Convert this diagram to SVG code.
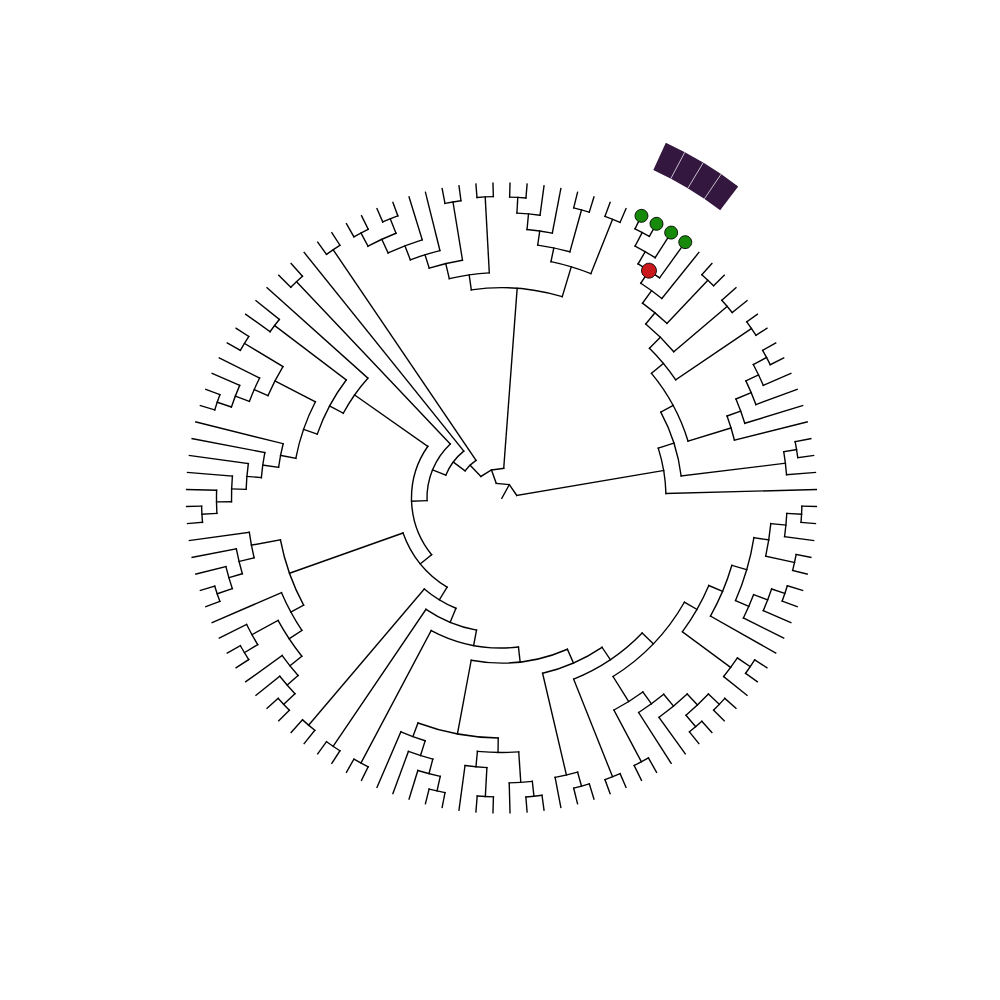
<svg xmlns="http://www.w3.org/2000/svg" width="1000" height="1000" viewBox="0 0 1000 1000">
<style>
.t path,.t circle,.t polyline{fill:none;stroke:#000;stroke-width:1.4;stroke-linecap:square}
.t polyline{stroke-linejoin:miter}
.g{fill:#178a0b;stroke:#000;stroke-width:0.8}
.r{fill:#c9191c;stroke:#000;stroke-width:0.8}
.sep{stroke:#d8d2de;stroke-width:0.8}
</style>
<rect width="1000" height="1000" fill="#fff"/>
<g transform="translate(501.5,498)">
<g id="connectors" class="t">
<path d="M0.3 0.3L7.83 -13.38"/>
<polyline points="-5.23,-14.59 7.83,-13.38 15.28,-2.59"/>
<path d="M15.5 0H29.8" transform="rotate(250.29)"/><path d="M15.5 0H164.5" transform="rotate(350.38)"/>
<circle r="164.5" pathLength="360" stroke-dasharray="16.11 400" transform="rotate(342.34)"/>
<path d="M164.5 0H181" transform="rotate(342.34)"/><path d="M164.5 0H315" transform="rotate(358.45)"/>
<circle r="181" pathLength="360" stroke-dasharray="21.36 400" transform="rotate(331.66)"/>
<path d="M181 0H195" transform="rotate(331.66)"/><path d="M181 0H286" transform="rotate(353.02)"/>
<circle r="286" pathLength="360" stroke-dasharray="4.65 400" transform="rotate(350.69)"/>
<path d="M286 0H299" transform="rotate(350.69)"/><path d="M286 0H315" transform="rotate(355.34)"/>
<circle r="299" pathLength="360" stroke-dasharray="3.10 400" transform="rotate(349.14)"/>
<path d="M299 0H315" transform="rotate(349.14)"/><path d="M299 0H315" transform="rotate(352.24)"/>
<circle r="195" pathLength="360" stroke-dasharray="22.74 400" transform="rotate(320.28)"/>
<path d="M195 0H210.5" transform="rotate(320.28)"/><path d="M195 0H240" transform="rotate(343.02)"/>
<circle r="240" pathLength="360" stroke-dasharray="6.01 400" transform="rotate(340.02)"/>
<path d="M240 0H254.5" transform="rotate(340.02)"/><path d="M240 0H315" transform="rotate(346.03)"/>
<circle r="254.5" pathLength="360" stroke-dasharray="5.82 400" transform="rotate(337.11)"/>
<path d="M254.5 0H271" transform="rotate(337.11)"/><path d="M254.5 0H315" transform="rotate(342.93)"/>
<circle r="271" pathLength="360" stroke-dasharray="5.43 400" transform="rotate(334.40)"/>
<path d="M271 0H285" transform="rotate(334.40)"/><path d="M271 0H315" transform="rotate(339.83)"/>
<circle r="285" pathLength="360" stroke-dasharray="4.65 400" transform="rotate(332.07)"/>
<path d="M285 0H300" transform="rotate(332.07)"/><path d="M285 0H315" transform="rotate(336.72)"/>
<circle r="300" pathLength="360" stroke-dasharray="3.10 400" transform="rotate(330.52)"/>
<path d="M300 0H315" transform="rotate(330.52)"/><path d="M300 0H315" transform="rotate(333.62)"/>
<circle r="210.5" pathLength="360" stroke-dasharray="11.20 400" transform="rotate(314.66)"/>
<path d="M210.5 0H226" transform="rotate(314.66)"/><path d="M210.5 0H302" transform="rotate(325.86)"/>
<circle r="302" pathLength="360" stroke-dasharray="3.10 400" transform="rotate(324.31)"/>
<path d="M302 0H315" transform="rotate(324.31)"/><path d="M302 0H315" transform="rotate(327.41)"/>
<circle r="226" pathLength="360" stroke-dasharray="10.00 400" transform="rotate(309.66)"/>
<path d="M226 0H240.5" transform="rotate(309.66)"/><path d="M226 0H296" transform="rotate(319.66)"/>
<circle r="296" pathLength="360" stroke-dasharray="3.11 400" transform="rotate(318.10)"/>
<path d="M296 0H315" transform="rotate(318.10)"/><path d="M296 0H315" transform="rotate(321.21)"/>
<circle r="240.5" pathLength="360" stroke-dasharray="7.56 400" transform="rotate(305.89)"/>
<path d="M240.5 0H256" transform="rotate(305.89)"/><path d="M240.5 0H300" transform="rotate(313.45)"/>
<circle r="300" pathLength="360" stroke-dasharray="3.10 400" transform="rotate(311.90)"/>
<path d="M300 0H315" transform="rotate(311.90)"/><path d="M300 0H315" transform="rotate(315.00)"/>
<circle r="256" pathLength="360" stroke-dasharray="5.82 400" transform="rotate(302.97)"/>
<path d="M256 0H271" transform="rotate(302.97)"/><path d="M256 0H315" transform="rotate(308.79)"/>
<circle r="271" pathLength="360" stroke-dasharray="5.43 400" transform="rotate(300.26)"/>
<path d="M271 0H285.2" transform="rotate(300.26)"/><path d="M271 0H315" transform="rotate(305.69)"/>
<circle r="285.2" pathLength="360" stroke-dasharray="4.66 400" transform="rotate(297.93)"/>
<path d="M285.2 0H300.5" transform="rotate(297.93)"/><path d="M285.2 0H315" transform="rotate(302.59)"/>
<circle r="300.5" pathLength="360" stroke-dasharray="3.10 400" transform="rotate(296.38)"/>
<path d="M300.5 0H315" transform="rotate(296.38)"/><path d="M300.5 0H315" transform="rotate(299.48)"/>
<polyline points="-20.59,-21.55 -10.05,-28.05 2.22,-29.72"/>
<path d="M29.8 0H45.4" transform="rotate(226.30)"/><path d="M29.8 0H210.3" transform="rotate(274.27)"/>
<circle r="210.3" pathLength="360" stroke-dasharray="25.04 400" transform="rotate(261.75)"/>
<path d="M210.3 0H225.5" transform="rotate(261.75)"/><path d="M210.3 0H241.5" transform="rotate(286.79)"/>
<circle r="225.5" pathLength="360" stroke-dasharray="10.28 400" transform="rotate(256.62)"/>
<path d="M225.5 0H241" transform="rotate(256.62)"/><path d="M225.5 0H301.5" transform="rotate(266.90)"/>
<circle r="301.5" pathLength="360" stroke-dasharray="3.11 400" transform="rotate(265.34)"/>
<path d="M301.5 0H315" transform="rotate(265.34)"/><path d="M301.5 0H315" transform="rotate(268.45)"/>
<circle r="241" pathLength="360" stroke-dasharray="8.15 400" transform="rotate(252.54)"/>
<path d="M241 0H255" transform="rotate(252.54)"/><path d="M241 0H300" transform="rotate(260.69)"/>
<circle r="300" pathLength="360" stroke-dasharray="3.10 400" transform="rotate(259.14)"/>
<path d="M300 0H315" transform="rotate(259.14)"/><path d="M300 0H315" transform="rotate(262.24)"/>
<circle r="255" pathLength="360" stroke-dasharray="6.98 400" transform="rotate(249.05)"/>
<path d="M255 0H270" transform="rotate(249.05)"/><path d="M255 0H315" transform="rotate(256.03)"/>
<circle r="270" pathLength="360" stroke-dasharray="7.76 400" transform="rotate(245.17)"/>
<path d="M270 0H285" transform="rotate(245.17)"/><path d="M270 0H315" transform="rotate(252.93)"/>
<circle r="285" pathLength="360" stroke-dasharray="6.21 400" transform="rotate(242.07)"/>
<path d="M285 0H300" transform="rotate(242.07)"/><path d="M285 0H300.5" transform="rotate(248.28)"/>
<circle r="300" pathLength="360" stroke-dasharray="3.10 400" transform="rotate(240.52)"/>
<path d="M300 0H315" transform="rotate(240.52)"/><path d="M300 0H315" transform="rotate(243.62)"/>
<circle r="300.5" pathLength="360" stroke-dasharray="3.11 400" transform="rotate(246.72)"/>
<path d="M300.5 0H315" transform="rotate(246.72)"/><path d="M300.5 0H315" transform="rotate(249.83)"/>
<circle r="241.5" pathLength="360" stroke-dasharray="9.90 400" transform="rotate(281.82)"/>
<path d="M241.5 0H255.5" transform="rotate(281.82)"/><path d="M241.5 0H300" transform="rotate(291.72)"/>
<circle r="300" pathLength="360" stroke-dasharray="3.11 400" transform="rotate(290.17)"/>
<path d="M300 0H315" transform="rotate(290.17)"/><path d="M300 0H315" transform="rotate(293.28)"/>
<circle r="255.5" pathLength="360" stroke-dasharray="7.37 400" transform="rotate(278.15)"/>
<path d="M255.5 0H269.7" transform="rotate(278.15)"/><path d="M255.5 0H299" transform="rotate(285.52)"/>
<circle r="299" pathLength="360" stroke-dasharray="3.10 400" transform="rotate(283.97)"/>
<path d="M299 0H315" transform="rotate(283.97)"/><path d="M299 0H315" transform="rotate(287.07)"/>
<circle r="269.7" pathLength="360" stroke-dasharray="5.43 400" transform="rotate(275.43)"/>
<path d="M269.7 0H285.3" transform="rotate(275.43)"/><path d="M269.7 0H315" transform="rotate(280.86)"/>
<circle r="285.3" pathLength="360" stroke-dasharray="4.66 400" transform="rotate(273.10)"/>
<path d="M285.3 0H301" transform="rotate(273.10)"/><path d="M285.3 0H315" transform="rotate(277.76)"/>
<circle r="301" pathLength="360" stroke-dasharray="3.11 400" transform="rotate(271.55)"/>
<path d="M301 0H315" transform="rotate(271.55)"/><path d="M301 0H315" transform="rotate(274.66)"/>
<circle r="45.4" pathLength="360" stroke-dasharray="19.12 400" transform="rotate(216.74)"/>
<path d="M45.4 0H60.2" transform="rotate(216.74)"/><path d="M45.4 0H300" transform="rotate(235.86)"/>
<circle r="300" pathLength="360" stroke-dasharray="3.10 400" transform="rotate(234.31)"/>
<path d="M300 0H315" transform="rotate(234.31)"/><path d="M300 0H315" transform="rotate(237.41)"/>
<circle r="60.2" pathLength="360" stroke-dasharray="28.96 400" transform="rotate(202.25)"/>
<path d="M60.2 0H74.5" transform="rotate(202.25)"/><path d="M60.2 0H315" transform="rotate(231.21)"/>
<circle r="74.5" pathLength="360" stroke-dasharray="48.57 400" transform="rotate(177.98)"/>
<path d="M74.5 0H90" transform="rotate(177.98)"/><path d="M74.5 0H298" transform="rotate(226.55)"/>
<circle r="298" pathLength="360" stroke-dasharray="3.10 400" transform="rotate(225.00)"/>
<path d="M298 0H315" transform="rotate(225.00)"/><path d="M298 0H315" transform="rotate(228.10)"/>
<circle r="90" pathLength="360" stroke-dasharray="74.11 400" transform="rotate(140.93)"/>
<path d="M90 0H104.5" transform="rotate(140.93)"/><path d="M90 0H179.5" transform="rotate(215.04)"/>
<circle r="179.5" pathLength="360" stroke-dasharray="13.72 400" transform="rotate(208.18)"/>
<path d="M179.5 0H195" transform="rotate(208.18)"/><path d="M179.5 0H315" transform="rotate(221.90)"/>
<circle r="195" pathLength="360" stroke-dasharray="18.12 400" transform="rotate(199.12)"/>
<path d="M195 0H209.5" transform="rotate(199.12)"/><path d="M195 0H285" transform="rotate(217.24)"/>
<circle r="285" pathLength="360" stroke-dasharray="3.10 400" transform="rotate(215.69)"/>
<path d="M285 0H315" transform="rotate(215.69)"/><path d="M285 0H315" transform="rotate(218.79)"/>
<circle r="209.5" pathLength="360" stroke-dasharray="16.42 400" transform="rotate(190.92)"/>
<path d="M209.5 0H225" transform="rotate(190.92)"/><path d="M209.5 0H255" transform="rotate(207.34)"/>
<circle r="255" pathLength="360" stroke-dasharray="7.37 400" transform="rotate(203.66)"/>
<path d="M255 0H270" transform="rotate(203.66)"/><path d="M255 0H300" transform="rotate(211.03)"/>
<circle r="300" pathLength="360" stroke-dasharray="3.11 400" transform="rotate(209.48)"/>
<path d="M300 0H315" transform="rotate(209.48)"/><path d="M300 0H315" transform="rotate(212.59)"/>
<circle r="270" pathLength="360" stroke-dasharray="5.43 400" transform="rotate(200.95)"/>
<path d="M270 0H285" transform="rotate(200.95)"/><path d="M270 0H315" transform="rotate(206.38)"/>
<circle r="285" pathLength="360" stroke-dasharray="4.66 400" transform="rotate(198.62)"/>
<path d="M285 0H300" transform="rotate(198.62)"/><path d="M285 0H315" transform="rotate(203.28)"/>
<circle r="300" pathLength="360" stroke-dasharray="3.10 400" transform="rotate(197.07)"/>
<path d="M300 0H315" transform="rotate(197.07)"/><path d="M300 0H315" transform="rotate(200.17)"/>
<circle r="225" pathLength="360" stroke-dasharray="6.12 400" transform="rotate(187.85)"/>
<path d="M225 0H241" transform="rotate(187.85)"/><path d="M225 0H315" transform="rotate(193.97)"/>
<circle r="241" pathLength="360" stroke-dasharray="6.01 400" transform="rotate(184.85)"/>
<path d="M241 0H255.5" transform="rotate(184.85)"/><path d="M241 0H315" transform="rotate(190.86)"/>
<circle r="255.5" pathLength="360" stroke-dasharray="5.82 400" transform="rotate(181.94)"/>
<path d="M255.5 0H270" transform="rotate(181.94)"/><path d="M255.5 0H315" transform="rotate(187.76)"/>
<circle r="270" pathLength="360" stroke-dasharray="5.44 400" transform="rotate(179.22)"/>
<path d="M270 0H285" transform="rotate(179.22)"/><path d="M270 0H315" transform="rotate(184.66)"/>
<circle r="285" pathLength="360" stroke-dasharray="4.65 400" transform="rotate(176.90)"/>
<path d="M285 0H300" transform="rotate(176.90)"/><path d="M285 0H315" transform="rotate(181.55)"/>
<circle r="300" pathLength="360" stroke-dasharray="3.11 400" transform="rotate(175.34)"/>
<path d="M300 0H315" transform="rotate(175.34)"/><path d="M300 0H315" transform="rotate(178.45)"/>
<circle r="104.5" pathLength="360" stroke-dasharray="39.07 400" transform="rotate(121.38)"/>
<path d="M104.5 0H119.3" transform="rotate(121.38)"/><path d="M104.5 0H225" transform="rotate(160.45)"/>
<circle r="225" pathLength="360" stroke-dasharray="17.75 400" transform="rotate(151.57)"/>
<path d="M225 0H239.5" transform="rotate(151.57)"/><path d="M225 0H254.5" transform="rotate(169.32)"/>
<circle r="254.5" pathLength="360" stroke-dasharray="5.82 400" transform="rotate(166.42)"/>
<path d="M254.5 0H270" transform="rotate(166.42)"/><path d="M254.5 0H315" transform="rotate(172.24)"/>
<circle r="270" pathLength="360" stroke-dasharray="5.43 400" transform="rotate(163.71)"/>
<path d="M270 0H284" transform="rotate(163.71)"/><path d="M270 0H315" transform="rotate(169.14)"/>
<circle r="284" pathLength="360" stroke-dasharray="4.65 400" transform="rotate(161.38)"/>
<path d="M284 0H300" transform="rotate(161.38)"/><path d="M284 0H315" transform="rotate(166.03)"/>
<circle r="300" pathLength="360" stroke-dasharray="3.10 400" transform="rotate(159.83)"/>
<path d="M300 0H315" transform="rotate(159.83)"/><path d="M300 0H315" transform="rotate(162.93)"/>
<circle r="239.5" pathLength="360" stroke-dasharray="10.27 400" transform="rotate(146.45)"/>
<path d="M239.5 0H254.8" transform="rotate(146.45)"/><path d="M239.5 0H315" transform="rotate(156.72)"/>
<circle r="254.8" pathLength="360" stroke-dasharray="9.70 400" transform="rotate(141.59)"/>
<path d="M254.8 0H270" transform="rotate(141.59)"/><path d="M254.8 0H284.5" transform="rotate(151.29)"/>
<circle r="284.5" pathLength="360" stroke-dasharray="4.65 400" transform="rotate(148.97)"/>
<path d="M284.5 0H300" transform="rotate(148.97)"/><path d="M284.5 0H315" transform="rotate(153.62)"/>
<circle r="300" pathLength="360" stroke-dasharray="3.11 400" transform="rotate(147.41)"/>
<path d="M300 0H315" transform="rotate(147.41)"/><path d="M300 0H315" transform="rotate(150.52)"/>
<circle r="270" pathLength="360" stroke-dasharray="5.43 400" transform="rotate(138.88)"/>
<path d="M270 0H284.5" transform="rotate(138.88)"/><path d="M270 0H315" transform="rotate(144.31)"/>
<circle r="284.5" pathLength="360" stroke-dasharray="4.66 400" transform="rotate(136.55)"/>
<path d="M284.5 0H300" transform="rotate(136.55)"/><path d="M284.5 0H315" transform="rotate(141.21)"/>
<circle r="300" pathLength="360" stroke-dasharray="3.10 400" transform="rotate(135.00)"/>
<path d="M300 0H315" transform="rotate(135.00)"/><path d="M300 0H315" transform="rotate(138.10)"/>
<circle r="119.3" pathLength="360" stroke-dasharray="17.90 400" transform="rotate(112.44)"/>
<path d="M119.3 0H134.5" transform="rotate(112.44)"/><path d="M119.3 0H298" transform="rotate(130.34)"/>
<circle r="298" pathLength="360" stroke-dasharray="3.11 400" transform="rotate(128.79)"/>
<path d="M298 0H315" transform="rotate(128.79)"/><path d="M298 0H315" transform="rotate(131.90)"/>
<circle r="134.5" pathLength="360" stroke-dasharray="23.43 400" transform="rotate(100.71)"/>
<path d="M134.5 0H150" transform="rotate(100.71)"/><path d="M134.5 0H300" transform="rotate(124.14)"/>
<circle r="300" pathLength="360" stroke-dasharray="3.10 400" transform="rotate(122.59)"/>
<path d="M300 0H315" transform="rotate(122.59)"/><path d="M300 0H315" transform="rotate(125.69)"/>
<circle r="150" pathLength="360" stroke-dasharray="34.42 400" transform="rotate(83.51)"/>
<path d="M150 0H165" transform="rotate(83.51)"/><path d="M150 0H300" transform="rotate(117.93)"/>
<circle r="300" pathLength="360" stroke-dasharray="3.10 400" transform="rotate(116.38)"/>
<path d="M300 0H315" transform="rotate(116.38)"/><path d="M300 0H315" transform="rotate(119.48)"/>
<circle r="165" pathLength="360" stroke-dasharray="34.14 400" transform="rotate(66.44)"/>
<path d="M165 0H180" transform="rotate(66.44)"/><path d="M165 0H240" transform="rotate(100.58)"/>
<circle r="240" pathLength="360" stroke-dasharray="19.59 400" transform="rotate(90.78)"/>
<path d="M240 0H254.5" transform="rotate(90.78)"/><path d="M240 0H254.5" transform="rotate(110.37)"/>
<circle r="254.5" pathLength="360" stroke-dasharray="5.82 400" transform="rotate(107.46)"/>
<path d="M254.5 0H270" transform="rotate(107.46)"/><path d="M254.5 0H315" transform="rotate(113.28)"/>
<circle r="270" pathLength="360" stroke-dasharray="5.43 400" transform="rotate(104.74)"/>
<path d="M270 0H285" transform="rotate(104.74)"/><path d="M270 0H315" transform="rotate(110.17)"/>
<circle r="285" pathLength="360" stroke-dasharray="4.66 400" transform="rotate(102.41)"/>
<path d="M285 0H300" transform="rotate(102.41)"/><path d="M285 0H315" transform="rotate(107.07)"/>
<circle r="300" pathLength="360" stroke-dasharray="3.11 400" transform="rotate(100.86)"/>
<path d="M300 0H315" transform="rotate(100.86)"/><path d="M300 0H315" transform="rotate(103.97)"/>
<circle r="254.5" pathLength="360" stroke-dasharray="9.31 400" transform="rotate(86.12)"/>
<path d="M254.5 0H285" transform="rotate(86.12)"/><path d="M254.5 0H270" transform="rotate(95.43)"/>
<circle r="270" pathLength="360" stroke-dasharray="4.66 400" transform="rotate(93.10)"/>
<path d="M270 0H299" transform="rotate(93.10)"/><path d="M270 0H315" transform="rotate(97.76)"/>
<circle r="299" pathLength="360" stroke-dasharray="3.11 400" transform="rotate(91.55)"/>
<path d="M299 0H315" transform="rotate(91.55)"/><path d="M299 0H315" transform="rotate(94.66)"/>
<circle r="285" pathLength="360" stroke-dasharray="4.66 400" transform="rotate(83.79)"/>
<path d="M285 0H300" transform="rotate(83.79)"/><path d="M285 0H315" transform="rotate(88.45)"/>
<circle r="300" pathLength="360" stroke-dasharray="3.10 400" transform="rotate(82.24)"/>
<path d="M300 0H315" transform="rotate(82.24)"/><path d="M300 0H315" transform="rotate(85.34)"/>
<circle r="180" pathLength="360" stroke-dasharray="20.76 400" transform="rotate(56.05)"/>
<path d="M180 0H195" transform="rotate(56.05)"/><path d="M180 0H284.5" transform="rotate(76.81)"/>
<circle r="284.5" pathLength="360" stroke-dasharray="4.66 400" transform="rotate(74.48)"/>
<path d="M284.5 0H299" transform="rotate(74.48)"/><path d="M284.5 0H315" transform="rotate(79.14)"/>
<circle r="299" pathLength="360" stroke-dasharray="3.10 400" transform="rotate(72.93)"/>
<path d="M299 0H315" transform="rotate(72.93)"/><path d="M299 0H315" transform="rotate(76.03)"/>
<circle r="195" pathLength="360" stroke-dasharray="24.44 400" transform="rotate(43.84)"/>
<path d="M195 0H210.5" transform="rotate(43.84)"/><path d="M195 0H300" transform="rotate(68.28)"/>
<circle r="300" pathLength="360" stroke-dasharray="3.11 400" transform="rotate(66.72)"/>
<path d="M300 0H315" transform="rotate(66.72)"/><path d="M300 0H315" transform="rotate(69.83)"/>
<circle r="210.5" pathLength="360" stroke-dasharray="28.32 400" transform="rotate(29.68)"/>
<path d="M210.5 0H225" transform="rotate(29.68)"/><path d="M210.5 0H240" transform="rotate(58.00)"/>
<circle r="240" pathLength="360" stroke-dasharray="8.15 400" transform="rotate(53.92)"/>
<path d="M240 0H254.6" transform="rotate(53.92)"/><path d="M240 0H298.6" transform="rotate(62.07)"/>
<circle r="298.6" pathLength="360" stroke-dasharray="3.10 400" transform="rotate(60.52)"/>
<path d="M298.6 0H315" transform="rotate(60.52)"/><path d="M298.6 0H315" transform="rotate(63.62)"/>
<circle r="254.6" pathLength="360" stroke-dasharray="6.98 400" transform="rotate(50.43)"/>
<path d="M254.6 0H270" transform="rotate(50.43)"/><path d="M254.6 0H315" transform="rotate(57.41)"/>
<circle r="270" pathLength="360" stroke-dasharray="7.76 400" transform="rotate(46.55)"/>
<path d="M270 0H285" transform="rotate(46.55)"/><path d="M270 0H315" transform="rotate(54.31)"/>
<circle r="285" pathLength="360" stroke-dasharray="6.21 400" transform="rotate(43.45)"/>
<path d="M285 0H300" transform="rotate(43.45)"/><path d="M285 0H300" transform="rotate(49.66)"/>
<circle r="300" pathLength="360" stroke-dasharray="3.10 400" transform="rotate(41.90)"/>
<path d="M300 0H315" transform="rotate(41.90)"/><path d="M300 0H315" transform="rotate(45.00)"/>
<circle r="300" pathLength="360" stroke-dasharray="3.11 400" transform="rotate(48.10)"/>
<path d="M300 0H315" transform="rotate(48.10)"/><path d="M300 0H315" transform="rotate(51.21)"/>
<circle r="225" pathLength="360" stroke-dasharray="13.58 400" transform="rotate(22.89)"/>
<path d="M225 0H240" transform="rotate(22.89)"/><path d="M225 0H285" transform="rotate(36.47)"/>
<circle r="285" pathLength="360" stroke-dasharray="4.65 400" transform="rotate(34.14)"/>
<path d="M285 0H300.5" transform="rotate(34.14)"/><path d="M285 0H315" transform="rotate(38.79)"/>
<circle r="300.5" pathLength="360" stroke-dasharray="3.10 400" transform="rotate(32.59)"/>
<path d="M300.5 0H315" transform="rotate(32.59)"/><path d="M300.5 0H315" transform="rotate(35.69)"/>
<circle r="240" pathLength="360" stroke-dasharray="13.19 400" transform="rotate(16.29)"/>
<path d="M240 0H255.5" transform="rotate(16.29)"/><path d="M240 0H315" transform="rotate(29.48)"/>
<circle r="255.5" pathLength="360" stroke-dasharray="14.74 400" transform="rotate(8.92)"/>
<path d="M255.5 0H270.5" transform="rotate(8.92)"/><path d="M255.5 0H270" transform="rotate(23.66)"/>
<circle r="270" pathLength="360" stroke-dasharray="5.43 400" transform="rotate(20.95)"/>
<path d="M270 0H285" transform="rotate(20.95)"/><path d="M270 0H315" transform="rotate(26.38)"/>
<circle r="285" pathLength="360" stroke-dasharray="4.66 400" transform="rotate(18.62)"/>
<path d="M285 0H299" transform="rotate(18.62)"/><path d="M285 0H315" transform="rotate(23.28)"/>
<circle r="299" pathLength="360" stroke-dasharray="3.10 400" transform="rotate(17.07)"/>
<path d="M299 0H315" transform="rotate(17.07)"/><path d="M299 0H315" transform="rotate(20.17)"/>
<circle r="270.5" pathLength="360" stroke-dasharray="6.98 400" transform="rotate(5.43)"/>
<path d="M270.5 0H285.7" transform="rotate(5.43)"/><path d="M270.5 0H300" transform="rotate(12.41)"/>
<circle r="300" pathLength="360" stroke-dasharray="3.11 400" transform="rotate(10.86)"/>
<path d="M300 0H315" transform="rotate(10.86)"/><path d="M300 0H315" transform="rotate(13.97)"/>
<circle r="285.7" pathLength="360" stroke-dasharray="4.66 400" transform="rotate(3.10)"/>
<path d="M285.7 0H300.5" transform="rotate(3.10)"/><path d="M285.7 0H315" transform="rotate(7.76)"/>
<circle r="300.5" pathLength="360" stroke-dasharray="3.11 400" transform="rotate(1.55)"/>
<path d="M300.5 0H315" transform="rotate(1.55)"/><path d="M300.5 0H315" transform="rotate(4.66)"/>
</g>
<g id="heatmap">
<circle r="376.4" fill="none" stroke="#33173f" stroke-width="29.8" pathLength="360" stroke-dasharray="12.41 400" transform="rotate(294.83)"/>
<path class="sep" d="M361.5 0H391.3" transform="rotate(297.93)"/>
<path class="sep" d="M361.5 0H391.3" transform="rotate(301.03)"/>
<path class="sep" d="M361.5 0H391.3" transform="rotate(304.14)"/>
</g>
<g id="tip-markers">
<circle class="g" cx="315" cy="0" r="6.5" transform="rotate(296.38)"/>
<circle class="g" cx="315" cy="0" r="6.5" transform="rotate(299.48)"/>
<circle class="g" cx="315" cy="0" r="6.5" transform="rotate(302.59)"/>
<circle class="g" cx="315" cy="0" r="6.5" transform="rotate(305.69)"/>
</g>
<g id="node-marker">
<circle class="r" cx="271" cy="0" r="7.5" transform="rotate(302.97)"/>
</g>
</g>
</svg>
